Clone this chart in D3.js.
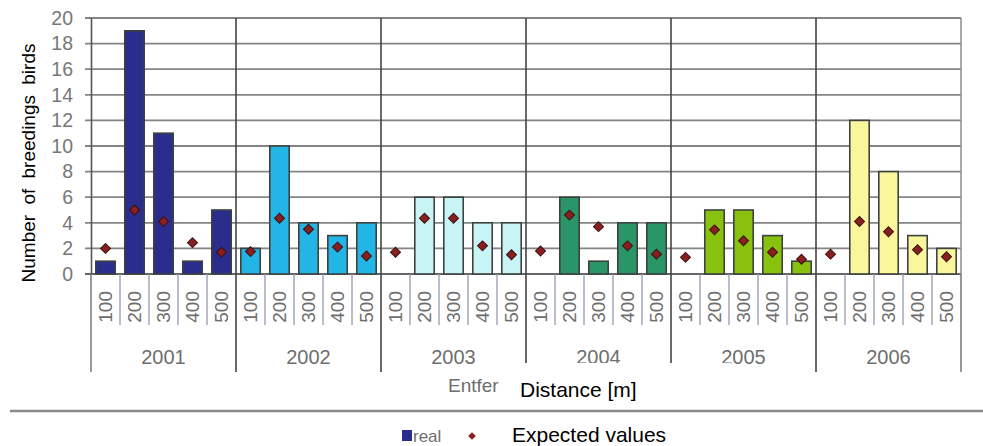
<!DOCTYPE html>
<html>
<head>
<meta charset="utf-8">
<script src="https://cdn.jsdelivr.net/npm/d3@7"></script>
<style>
  body { margin: 0; background: #fff; }
  svg { display: block; font-family: Arial, "Liberation Sans", sans-serif; }
</style>
</head>
<body>
<div id="vis"></div>
<script>
// data
var years = ["2001", "2002", "2003", "2004", "2005", "2006"]
var distances = ["100", "200", "300", "400", "500"]
var realValues = [
  [1, 19, 11, 1, 5],
  [2, 10, 4, 3, 4],
  [0, 6, 6, 4, 4],
  [0, 6, 1, 4, 4],
  [0, 5, 5, 3, 1],
  [0, 12, 8, 3, 2]
]
var expectedValues = [
  [2.0, 5.0, 4.1, 2.45, 1.7],
  [1.75, 4.35, 3.5, 2.1, 1.4],
  [1.7, 4.35, 4.35, 2.2, 1.5],
  [1.8, 4.6, 3.7, 2.2, 1.55],
  [1.3, 3.45, 2.6, 1.7, 1.15],
  [1.55, 4.1, 3.3, 1.9, 1.35]
]
var yearColors = ["#2b2d8c", "#22b5e6", "#c9f4f6", "#2a9668", "#88c20f", "#f9f69c"]
var yTicks = [0, 2, 4, 6, 8, 10, 12, 14, 16, 18, 20]

var width = 983, height = 446
// plot box (window.top is taken, so prefixed names)
var pLeft = 91, pRight = 961, pTop = 18, pBottom = 274

var svg = d3.select("#vis").append("svg")
  .attr("width", width)
  .attr("height", height)

// scales
var xYear = d3.scaleBand().domain(years).range([pLeft, pRight])
var xDist = d3.scaleBand().domain(distances)
  .range([0, xYear.bandwidth()])
  .paddingInner(0.33).paddingOuter(0.165)
var y = d3.scaleLinear().domain([0, 20]).range([pBottom, pTop])

var rows = []
years.forEach(function(yr, i) {
  distances.forEach(function(d, j) {
    rows.push({year: yr, dist: d, real: realValues[i][j], exp: expectedValues[i][j], color: yearColors[i]})
  })
})

// horizontal grid
svg.append("g").selectAll("line")
  .data(yTicks)
  .enter().append("line")
  .attr("x1", pLeft - 6).attr("x2", pRight)
  .attr("y1", d => y(d)).attr("y2", d => y(d))
  .style("stroke", d => d == 0 ? "#666" : "#848484")
  .style("stroke-width", "1.8px")

// y axis
var yAxis = svg.append("g")
  .attr("transform", `translate(${pLeft},0)`)
  .call(d3.axisLeft(y).tickValues(yTicks).tickSize(0).tickPadding(18))
yAxis.select(".domain").style("stroke", "#555").style("stroke-width", "1.6px")
yAxis.selectAll("text").style("font-size", "19.5px").style("fill", "#777")

// right border
svg.append("line")
  .attr("x1", pRight).attr("x2", pRight).attr("y1", pTop).attr("y2", pBottom)
  .style("stroke", "#8c8c8c").style("stroke-width", "1.5px")

// year dividers inside plot and below axis
svg.append("g").selectAll("line")
  .data(years.slice(1))
  .enter().append("line")
  .attr("x1", d => xYear(d)).attr("x2", d => xYear(d))
  .attr("y1", pTop).attr("y2", 372)
  .style("stroke", "#444").style("stroke-width", "1.6px")
svg.append("line")
  .attr("x1", pLeft).attr("x2", pLeft).attr("y1", pBottom).attr("y2", 372)
  .style("stroke", "#777").style("stroke-width", "1.5px")
svg.append("line")
  .attr("x1", pRight).attr("x2", pRight).attr("y1", pBottom).attr("y2", 372)
  .style("stroke", "#777").style("stroke-width", "1.5px")

// category separators
var seps = []
years.forEach(function(yr) {
  distances.slice(1).forEach(function(d) {
    seps.push(xYear(yr) + xDist(d) - xDist.step() * xDist.paddingInner() / 2)
  })
})
svg.append("g").selectAll("line")
  .data(seps)
  .enter().append("line")
  .attr("x1", d => d).attr("x2", d => d)
  .attr("y1", pBottom).attr("y2", 325)
  .style("stroke", "#8d8fa8").style("stroke-width", "1.2px")

// bars
svg.append("g").selectAll("rect")
  .data(rows.filter(d => d.real > 0))
  .enter().append("rect")
  .attr("x", d => xYear(d.year) + xDist(d.dist))
  .attr("y", d => y(d.real))
  .attr("width", xDist.bandwidth())
  .attr("height", d => y(0) - y(d.real))
  .style("fill", d => d.color)
  .style("stroke", "#3d4140")
  .style("stroke-width", "1.6px")

// expected values
svg.append("g").selectAll("path")
  .data(rows)
  .enter().append("path")
  .attr("d", d3.symbol().type(d3.symbolSquare).size(50))
  .attr("transform", d => `translate(${xYear(d.year) + xDist(d.dist) + xDist.bandwidth() / 2},${y(d.exp)}) rotate(45)`)
  .style("fill", "#8a1f1f")
  .style("stroke", "#3a1010")
  .style("stroke-width", "1px")

// distance labels per year
years.forEach(function(yr) {
  var g = svg.append("g").attr("transform", `translate(${xYear(yr)},${pBottom})`)
  g.call(d3.axisBottom(xDist).tickSize(0))
  g.select(".domain").remove()
  g.selectAll("text")
    .attr("transform", "rotate(-90)")
    .attr("x", -17).attr("y", 0).attr("dy", "0.35em")
    .style("text-anchor", "end")
    .style("font-size", "19px")
    .style("fill", "#6e6e6e")
})

// year labels
svg.append("g").selectAll("text")
  .data(years)
  .enter().append("text")
  .attr("x", d => xYear(d) + xYear.bandwidth() / 2)
  .attr("y", 364)
  .style("text-anchor", "middle")
  .style("font-size", "20px")
  .style("fill", "#6e6e6e")
  .text(d => d)

// y axis title
svg.append("text")
  .attr("transform", "translate(35,163) rotate(-90)")
  .style("text-anchor", "middle")
  .style("font-size", "19px")
  .style("word-spacing", "5px")
  .style("fill", "#000")
  .text("Number of breedings birds")

// x axis title (old label remnant + pasted label)
svg.append("text")
  .attr("x", 448).attr("y", 392)
  .style("font-size", "19px")
  .style("fill", "#6e6e6e")
  .text("Entfer")
svg.append("rect")
  .attr("x", 500).attr("y", 363).attr("width", 231).attr("height", 45)
  .style("fill", "#fff")
svg.append("text")
  .attr("x", 520).attr("y", 397)
  .style("font-size", "21px")
  .style("fill", "#000")
  .text("Distance [m]")

// separator line above legend
svg.append("line")
  .attr("x1", 10).attr("x2", width).attr("y1", 411).attr("y2", 411)
  .style("stroke", "#8a8a8a").style("stroke-width", "2.5px")

// legend
svg.append("rect")
  .attr("x", 402).attr("y", 430).attr("width", 10).attr("height", 11)
  .style("fill", yearColors[0])
svg.append("text")
  .attr("x", 413).attr("y", 442)
  .style("font-size", "17px")
  .style("fill", "#6e6e6e")
  .text("real")
svg.append("path")
  .attr("d", d3.symbol().type(d3.symbolSquare).size(30))
  .attr("transform", "translate(472,436) rotate(45)")
  .style("fill", "#8a1f1f")
svg.append("rect")
  .attr("x", 490).attr("y", 413).attr("width", 276).attr("height", 33)
  .style("fill", "#fff")
svg.append("text")
  .attr("x", 512).attr("y", 442)
  .style("font-size", "21px")
  .style("fill", "#000")
  .text("Expected values")
</script>
</body>
</html>
